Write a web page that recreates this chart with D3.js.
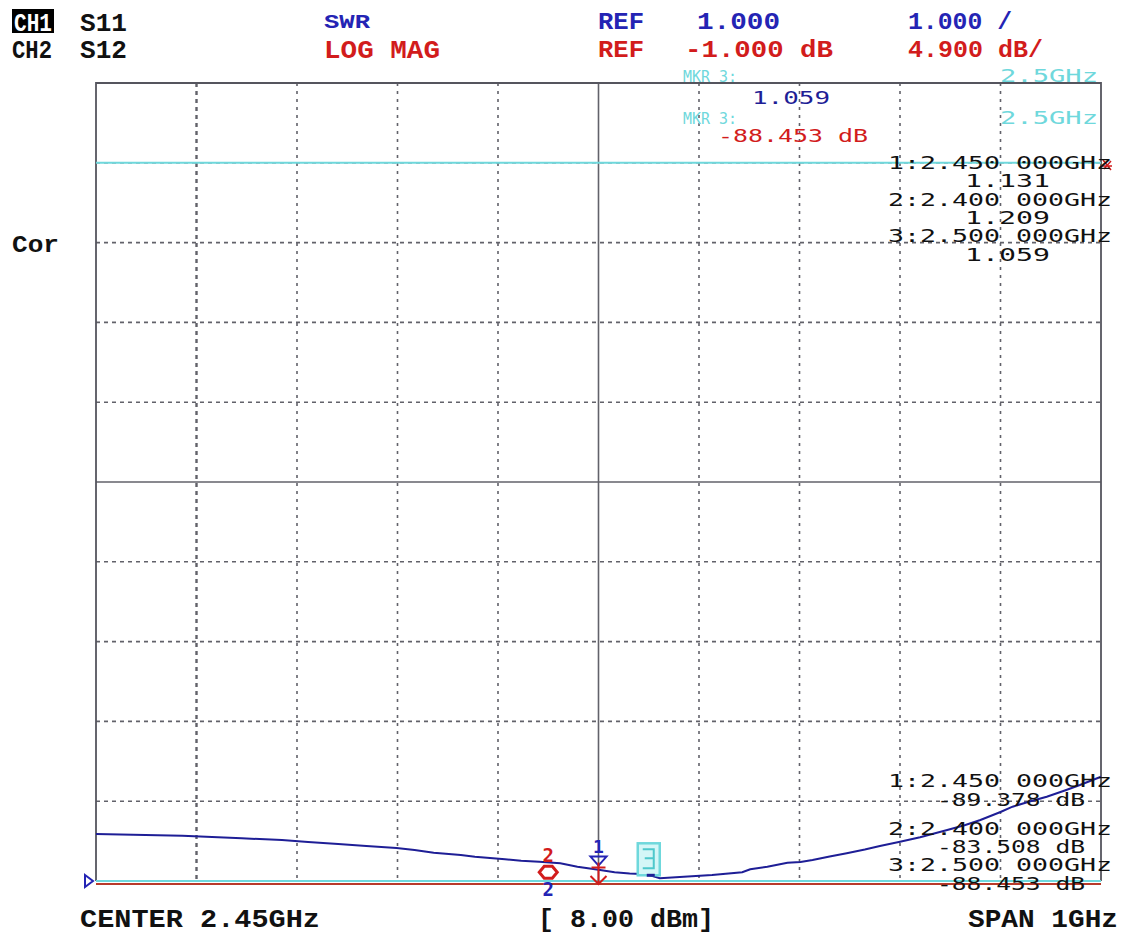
<!DOCTYPE html>
<html>
<head>
<meta charset="utf-8">
<script src="https://cdn.jsdelivr.net/npm/d3@7"></script>
<style>
  html, body { margin: 0; padding: 0; background: #ffffff; }
  svg { display: block; }
</style>
</head>
<body>
<script>
// ---------------- DATA ----------------
// CH1 S11 SWR trace (frequency in GHz, SWR)
const traceFreqGHz = [1.950, 2.036, 2.095, 2.135, 2.161, 2.191, 2.219, 2.249, 2.267, 2.286,
  2.313, 2.327, 2.357, 2.373, 2.391, 2.412, 2.429, 2.450, 2.466, 2.481, 2.498, 2.511,
  2.563, 2.593, 2.601, 2.618, 2.638, 2.651, 2.663, 2.680, 2.697, 2.715, 2.730, 2.750,
  2.770, 2.797, 2.815, 2.830, 2.850, 2.862, 2.879, 2.896, 2.914, 2.929, 2.950];
const traceSWR = [1.589, 1.568, 1.535, 1.514, 1.489, 1.464, 1.439, 1.414, 1.389, 1.355,
  1.326, 1.305, 1.272, 1.254, 1.242, 1.222, 1.179, 1.140, 1.109, 1.094, 1.084, 1.034,
  1.075, 1.109, 1.147, 1.179, 1.229, 1.238, 1.263, 1.307, 1.347, 1.394, 1.439, 1.492,
  1.548, 1.639, 1.702, 1.764, 1.865, 1.931, 1.996, 2.056, 2.134, 2.203, 2.307];

// CH2 S12 LOG MAG trace (dB) – far below the screen, shown clipped at the bottom
const logMagFreqGHz = [1.95, 2.40, 2.45, 2.50, 2.95];
const logMagDB = [-86.0, -83.508, -89.378, -88.453, -87.0];

// Cyan reference (memory) lines, in SWR units
const memoryLinesSWR = [10.0, 1.0];

// Markers
const markerIds = ["1", "2", "3"];
const markerFreqGHz = [2.45, 2.40, 2.50];
const markerFreqText = ["1:2.450 000GHz", "2:2.400 000GHz", "3:2.500 000GHz"];
const markerSWRText = ["1.131", "1.209", "1.059"];
const markerSWR = [1.131, 1.209, 1.059];
const markerDBText = ["-89.378 dB", "-83.508 dB", "-88.453 dB"];

// Scale settings
const centerGHz = 2.45, spanGHz = 1.0;
const swrRef = 1.0, swrPerDiv = 1.0;
const dbRef = -1.0, dbPerDiv = 4.9;
const divisions = 10;

// Header / footer labels
const headerCh = ["CH1", "CH2"];
const headerParam = ["S11", "S12"];
const headerFormat = ["SWR", "LOG MAG"];
const headerRef = ["1.000", "-1.000 dB"];
const headerScale = ["1.000 /", "4.900 dB/"];
const footerLabels = ["CENTER 2.45GHz", "[ 8.00 dBm]", "SPAN 1GHz"];

// ---------------- DRAW ----------------
const W = 1129, H = 934;
const plot = { left: 96, right: 1101, top: 83, bottom: 881 };
const NAVY = "#1e1e96", BLUE = "#2424b4", RED = "#d21c1c", CYAN = "#6fd8dc", GRID = "#62626a", BLACK = "#111";
const HEAD_FONT = "'Liberation Mono', 'DejaVu Sans Mono', monospace";
const THIN_FONT = "'DejaVu Sans Mono', 'Liberation Mono', monospace";

const svg = d3.select("body").append("svg").attr("width", W).attr("height", H);
svg.append("rect").attr("width", W).attr("height", H).attr("fill", "#fff");

const x = d3.scaleLinear()
  .domain([centerGHz - spanGHz / 2, centerGHz + spanGHz / 2])
  .range([plot.left, plot.right]);
const y = d3.scaleLinear()
  .domain([swrRef, swrRef + swrPerDiv * divisions])
  .range([plot.bottom, plot.top]);
const yDB = d3.scaleLinear()
  .domain([dbRef - dbPerDiv * divisions, dbRef])
  .range([plot.bottom, plot.top]).clamp(true);

// grid
const xTicks = d3.range(divisions + 1).map(i => x.domain()[0] + i * spanGHz / divisions);
const yTicks = d3.range(divisions + 1).map(i => swrRef + i * swrPerDiv);
const grid = svg.append("g");
xTicks.slice(1, -1).forEach((f, i) => {
  const center = i === 4;
  grid.append("line")
    .attr("x1", x(f)).attr("x2", x(f)).attr("y1", plot.top).attr("y2", plot.bottom)
    .attr("stroke", GRID)
    .attr("stroke-width", center ? 1.6 : (i === 0 ? 2.4 : 1.6))
    .attr("stroke-dasharray", center ? null : (i === 0 ? "4,4" : "3,5"));
});
yTicks.slice(1, -1).forEach((v, i) => {
  const center = i === 4;
  grid.append("line")
    .attr("x1", plot.left).attr("x2", plot.right).attr("y1", y(v)).attr("y2", y(v))
    .attr("stroke", GRID).attr("stroke-width", 1.6)
    .attr("stroke-dasharray", center ? null : "4,4");
});
// frame
grid.append("path")
  .attr("d", `M${plot.left},${plot.bottom}V${plot.top}H${plot.right}V${plot.bottom}`)
  .attr("fill", "none").attr("stroke", "#55555e").attr("stroke-width", 1.8);

// cyan memory lines
memoryLinesSWR.forEach(v => {
  svg.append("line")
    .attr("x1", plot.left).attr("x2", plot.right)
    .attr("y1", y(v)).attr("y2", y(v))
    .attr("stroke", CYAN).attr("stroke-width", 2);
});

// red LOG MAG trace (clipped below bottom)
const redLine = d3.line().x((d, i) => x(logMagFreqGHz[i])).y(d => yDB(d) + 3);
svg.append("path").attr("d", redLine(logMagDB))
  .attr("fill", "none").attr("stroke", "#b83a2a").attr("stroke-width", 2);

// SWR trace
const swrLine = d3.line().x((d, i) => x(traceFreqGHz[i])).y(d => y(d));
svg.append("path").attr("d", swrLine(traceSWR))
  .attr("fill", "none").attr("stroke", NAVY).attr("stroke-width", 2);

// reference position marker
svg.append("path")
  .attr("d", `M${plot.left - 11},${plot.bottom - 6}L${plot.left - 3},${plot.bottom}L${plot.left - 11},${plot.bottom + 6}Z`)
  .attr("fill", "none").attr("stroke", BLUE).attr("stroke-width", 2);

// ---------------- text helper ----------------
function txt(px, py, s, o) {
  const t = svg.append("text")
    .attr("x", px).attr("y", py)
    .attr("font-family", o.family || HEAD_FONT)
    .attr("font-size", o.size || 24)
    .attr("font-weight", o.weight || "bold")
    .attr("fill", o.fill || BLACK)
    .attr("text-anchor", o.anchor || "start")
    .style("white-space", "pre")
    .text(s);
  if (o.width) t.attr("textLength", o.width).attr("lengthAdjust", "spacingAndGlyphs");
  return t;
}

// ---------------- markers ----------------
const m1x = x(markerFreqGHz[0]), m2x = x(markerFreqGHz[1]), m3x = x(markerFreqGHz[2]);
const bottomY = yDB(logMagDB[0]) + 3;
// Marker 2 (red CH2 over blue CH1)
txt(m2x, y(markerSWR[1]) - 2, markerIds[1], { size: 19, weight: "bold", fill: RED, anchor: "middle", family: THIN_FONT });
svg.append("path")
  .attr("d", `M${m2x - 9},${y(markerSWR[1]) + 8}L${m2x - 4},${y(markerSWR[1]) + 2}H${m2x + 4}L${m2x + 9},${y(markerSWR[1]) + 8}L${m2x + 4},${y(markerSWR[1]) + 14}H${m2x - 4}Z`)
  .attr("fill", "#fff").attr("stroke", RED).attr("stroke-width", 3);
txt(m2x, bottomY + 12, markerIds[1], { size: 19, weight: "bold", fill: BLUE, anchor: "middle", family: THIN_FONT });

// Marker 1
const m1y = y(markerSWR[0]);
txt(m1x, m1y - 18, markerIds[0], { size: 18, weight: "bold", fill: BLUE, anchor: "middle", family: THIN_FONT });
svg.append("path")
  .attr("d", `M${m1x - 8},${m1y - 14}H${m1x + 8}L${m1x},${m1y - 5}Z`)
  .attr("fill", "none").attr("stroke", BLUE).attr("stroke-width", 2);
svg.append("path")
  .attr("d", `M${m1x},${m1y - 8}V${bottomY}M${m1x - 7},${m1y - 3}H${m1x + 7}M${m1x - 8},${bottomY - 8}L${m1x},${bottomY}L${m1x + 8},${bottomY - 8}`)
  .attr("fill", "none").attr("stroke", RED).attr("stroke-width", 2);

// Marker 3 (active, boxed)
const m3y = y(markerSWR[2]);
svg.append("rect").attr("x", m3x - 11).attr("y", m3y - 33).attr("width", 22).attr("height", 32)
  .attr("fill", "#d4f6f7").attr("stroke", CYAN).attr("stroke-width", 2.5);
svg.append("path")
  .attr("d", `M${m3x - 6},${m3y - 27}H${m3x + 5}V${m3y - 18}H${m3x - 4}M${m3x + 5},${m3y - 18}V${m3y - 8}H${m3x - 6}`)
  .attr("fill", "none").attr("stroke", "#4ec8cc").attr("stroke-width", 2);
svg.append("line").attr("x1", m3x - 2).attr("x2", m3x + 6).attr("y1", m3y - 1).attr("y2", m3y - 1)
  .attr("stroke", NAVY).attr("stroke-width", 3);

// small red end mark at right of upper readout
svg.append("path").attr("d", "M1103,160L1111,170M1111,161L1104,169M1101,166H1112")
  .attr("stroke", RED).attr("stroke-width", 1.5).attr("fill", "none");

// ---------------- header ----------------
svg.append("rect").attr("x", 12).attr("y", 9).attr("width", 42).attr("height", 24).attr("fill", "#000");
txt(14, 31, headerCh[0], { size: 25, fill: "#fff", width: 38 });
txt(80, 31, headerParam[0], { size: 25, width: 47 });
txt(12, 58, headerCh[1], { size: 25, width: 40 });
txt(80, 58, headerParam[1], { size: 25, width: 47 });
txt(324, 28, headerFormat[0], { size: 21, fill: BLUE, width: 46 });
txt(324, 58, headerFormat[1], { size: 25, fill: RED, width: 116 });
txt(598, 29, "REF", { size: 24, fill: BLUE, width: 46 });
txt(697, 29, headerRef[0], { size: 24, fill: BLUE, width: 83 });
txt(908, 29, headerScale[0], { size: 24, fill: BLUE, width: 104 });
txt(598, 57, "REF", { size: 24, fill: RED, width: 46 });
txt(685, 57, headerRef[1], { size: 24, fill: RED, width: 148 });
txt(908, 57, headerScale[1], { size: 24, fill: RED, width: 135 });

txt(12, 252, "Cor", { size: 24, width: 47 });

// ---------------- footer ----------------
txt(80, 927, footerLabels[0], { size: 26, width: 240 });
txt(538, 927, footerLabels[1], { size: 26, width: 176 });
txt(968, 927, footerLabels[2], { size: 26, width: 150 });

// ---------------- marker readouts ----------------
const thin = (px, py, s, fill, w, sz) => txt(px, py, s, { size: sz || 17, weight: "normal", family: THIN_FONT, fill: fill, width: w });
thin(683, 82, "MKR 3:", CYAN, 54, 15);
thin(1000, 82, "2.5GHz", CYAN, 98);
thin(752, 104, markerSWRText[2], NAVY, 78);
thin(683, 124, "MKR 3:", CYAN, 54, 15);
thin(1000, 124, "2.5GHz", CYAN, 98);
thin(718, 142, markerDBText[2], RED, 150);

// CH1 readout block (upper)
const upperFreqY = [169, 206, 242];
const upperValY = [187, 224, 261];
markerIds.forEach((id, i) => {
  thin(888, upperFreqY[i], markerFreqText[i], BLACK, 224);
  thin(965, upperValY[i], markerSWRText[i], BLACK, 85);
});
// CH2 readout block (lower)
const lowerFreqY = [787, 835, 871];
const lowerValY = [806, 853, 890];
markerIds.forEach((id, i) => {
  thin(888, lowerFreqY[i], markerFreqText[i], BLACK, 224);
  thin(937, lowerValY[i], markerDBText[i], BLACK, 148);
});
</script>
</body>
</html>
